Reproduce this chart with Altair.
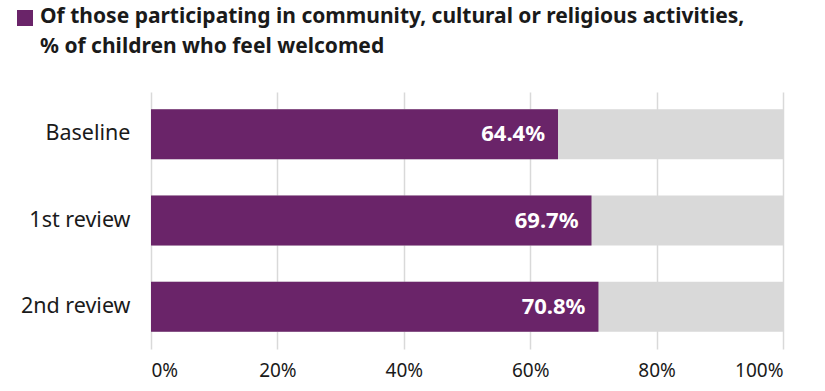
import altair as alt
import pandas as pd

categories = ["Baseline", "1st review", "2nd review"]
values = [64.4, 69.7, 70.8]
totals = [100, 100, 100]
series_name = "Of those participating in community, cultural or religious activities, % of children who feel welcomed"
title_lines = ["Of those participating in community, cultural or religious activities,",
               "% of children who feel welcomed"]

df = pd.DataFrame({
    "category": categories,
    "value": values,
    "total": totals,
    "series": [series_name] * len(categories),
    "label": [f"{v:.1f}%" for v in values],
})

FONT = "Noto Sans"
PURPLE = "#6a2469"
GREY = "#d9d9d9"

y_enc = alt.Y("category:N", sort=categories, title=None,
              scale=alt.Scale(paddingInner=0.42, paddingOuter=0.2),
              axis=alt.Axis(labelFontSize=21.5, labelColor="#1a1a1a", labelFont=FONT,
                            labelPadding=21, ticks=False, domain=False, grid=False))
x_scale = alt.Scale(domain=[0, 100], nice=False, zero=True)
x_axis = alt.Axis(values=[0, 20, 40, 60, 80, 100], labelExpr="datum.value + '%'",
                  labelFontSize=19, labelColor="#1a1a1a", labelFont=FONT,
                  labelPadding=12, ticks=False, domain=False, grid=True,
                  gridColor=GREY, gridWidth=1.5, title=None)

bg = alt.Chart(df).mark_bar(color=GREY, cornerRadius=0).encode(
    x=alt.X("total:Q", scale=x_scale, axis=x_axis),
    y=y_enc,
)

fg = alt.Chart(df).mark_bar(cornerRadius=0).encode(
    x=alt.X("value:Q", scale=x_scale),
    y=alt.Y("category:N", sort=categories),
    color=alt.Color("series:N", scale=alt.Scale(range=[PURPLE]),
                    legend=alt.Legend(orient="none", legendX=-134, legendY=-82,
                                      title=None, labelExpr="''", symbolType="square",
                                      symbolSize=256, symbolStrokeWidth=0,
                                      symbolOpacity=1, padding=0, labelFontSize=1)),
)

labels = alt.Chart(df).mark_text(align="right", baseline="middle", dx=-13,
                                 font=FONT, fontSize=22, fontWeight="bold",
                                 color="white").encode(
    x=alt.X("value:Q", scale=x_scale),
    y=alt.Y("category:N", sort=categories),
    text="label:N",
)

chart = alt.layer(bg, fg, labels).properties(
    width=632, height=257,
    title=alt.TitleParams(text=title_lines, anchor="start", frame="group",
                          font=FONT, fontSize=21, fontWeight="bold", color="#1a1a1a",
                          lineHeight=30, dx=-111, offset=0, dy=47),
    padding={"left": 151, "top": 92, "right": 42, "bottom": 42},
    autosize=alt.AutoSizeParams(type="none"),
).configure_view(stroke=None)

chart.save("out.html", embed_options={"renderer": "svg", "actions": False})
